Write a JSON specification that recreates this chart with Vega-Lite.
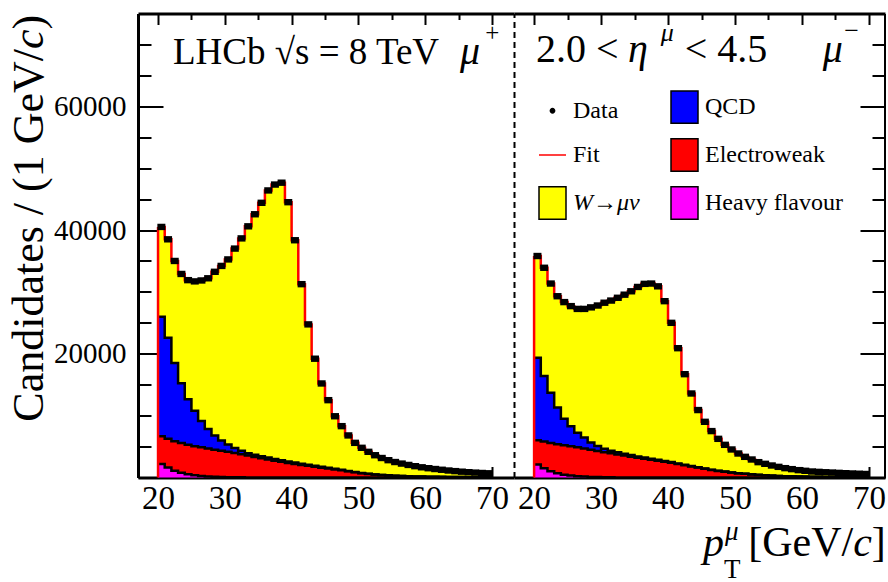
{
  "$schema": "https://vega.github.io/schema/vega-lite/v6.json",
  "background": "white",
  "padding": {"left": 7, "top": 12.5, "right": 0, "bottom": 0},
  "config": {
    "view": {"stroke": null},
    "font": "Liberation Serif",
    "axis": {"grid": false, "domainColor": "black", "tickColor": "black", "labelColor": "black", "titleColor": "black", "labelFont": "Liberation Serif", "titleFont": "Liberation Serif", "labelOverlap": false, "labelFlush": false}
  },
  "datasets": {
    "plus": [
      {"pt":20,"hf":2200,"ew":4480,"qcd":19320,"w":14500,"data":40500},
      {"pt":21,"hf":1600,"ew":4680,"qcd":16320,"w":15900,"data":38500},
      {"pt":22,"hf":1100,"ew":4770,"qcd":12630,"w":16500,"data":35000},
      {"pt":23,"hf":750,"ew":4810,"qcd":9690,"w":17650,"data":32900},
      {"pt":24,"hf":520,"ew":4780,"qcd":7350,"w":19250,"data":31900},
      {"pt":25,"hf":370,"ew":4700,"qcd":5730,"w":20900,"data":31700},
      {"pt":26,"hf":260,"ew":4610,"qcd":4280,"w":22700,"data":31850},
      {"pt":27,"hf":180,"ew":4500,"qcd":3170,"w":24350,"data":32200},
      {"pt":28,"hf":120,"ew":4380,"qcd":2300,"w":26450,"data":33250},
      {"pt":29,"hf":80,"ew":4240,"qcd":1680,"w":28200,"data":34200},
      {"pt":30,"hf":50,"ew":4100,"qcd":1200,"w":29900,"data":35250},
      {"pt":31,"hf":35,"ew":3925,"qcd":820,"w":32220,"data":37000},
      {"pt":32,"hf":25,"ew":3735,"qcd":550,"w":34340,"data":38650},
      {"pt":33,"hf":15,"ew":3525,"qcd":400,"w":36660,"data":40600},
      {"pt":34,"hf":10,"ew":3320,"qcd":350,"w":38870,"data":42550},
      {"pt":35,"hf":8,"ew":3112,"qcd":320,"w":40960,"data":44400},
      {"pt":36,"hf":6,"ew":2914,"qcd":300,"w":43180,"data":46400},
      {"pt":37,"hf":5,"ew":2715,"qcd":280,"w":44350,"data":47350},
      {"pt":38,"hf":4,"ew":2536,"qcd":260,"w":44850,"data":47650},
      {"pt":39,"hf":3,"ew":2357,"qcd":240,"w":41900,"data":44500},
      {"pt":40,"hf":2,"ew":2188,"qcd":220,"w":35940,"data":38350},
      {"pt":41,"hf":2,"ew":2028,"qcd":200,"w":29020,"data":31250},
      {"pt":42,"hf":1,"ew":1879,"qcd":180,"w":22690,"data":24750},
      {"pt":43,"hf":1,"ew":1729,"qcd":160,"w":17310,"data":19200},
      {"pt":44,"hf":1,"ew":1589,"qcd":140,"w":13470,"data":15200},
      {"pt":45,"hf":0,"ew":1450,"qcd":120,"w":10930,"data":12500},
      {"pt":46,"hf":0,"ew":1310,"qcd":100,"w":8490,"data":9900},
      {"pt":47,"hf":0,"ew":1160,"qcd":80,"w":7060,"data":8300},
      {"pt":48,"hf":0,"ew":1010,"qcd":60,"w":5730,"data":6800},
      {"pt":49,"hf":0,"ew":850,"qcd":50,"w":4700,"data":5600},
      {"pt":50,"hf":0,"ew":700,"qcd":40,"w":4060,"data":4800},
      {"pt":51,"hf":0,"ew":580,"qcd":30,"w":3540,"data":4150},
      {"pt":52,"hf":0,"ew":480,"qcd":25,"w":3095,"data":3600},
      {"pt":53,"hf":0,"ew":400,"qcd":20,"w":2730,"data":3150},
      {"pt":54,"hf":0,"ew":330,"qcd":20,"w":2450,"data":2800},
      {"pt":55,"hf":0,"ew":280,"qcd":15,"w":2205,"data":2500},
      {"pt":56,"hf":0,"ew":240,"qcd":12,"w":1998,"data":2250},
      {"pt":57,"hf":0,"ew":200,"qcd":10,"w":1820,"data":2030},
      {"pt":58,"hf":0,"ew":170,"qcd":9,"w":1651,"data":1830},
      {"pt":59,"hf":0,"ew":150,"qcd":8,"w":1492,"data":1650},
      {"pt":60,"hf":0,"ew":130,"qcd":7,"w":1363,"data":1500},
      {"pt":61,"hf":0,"ew":115,"qcd":6,"w":1249,"data":1370},
      {"pt":62,"hf":0,"ew":100,"qcd":5,"w":1145,"data":1250},
      {"pt":63,"hf":0,"ew":90,"qcd":5,"w":1035,"data":1130},
      {"pt":64,"hf":0,"ew":80,"qcd":4,"w":946,"data":1030},
      {"pt":65,"hf":0,"ew":70,"qcd":4,"w":866,"data":940},
      {"pt":66,"hf":0,"ew":60,"qcd":3,"w":797,"data":860},
      {"pt":67,"hf":0,"ew":55,"qcd":3,"w":732,"data":790},
      {"pt":68,"hf":0,"ew":50,"qcd":2,"w":678,"data":730},
      {"pt":69,"hf":0,"ew":45,"qcd":2,"w":633,"data":680},
      {"pt":70,"hf":0,"ew":45,"qcd":2,"w":633}
    ],
    "minus": [
      {"pt":20,"hf":2100,"ew":3930,"qcd":13320,"w":16450,"data":35800},
      {"pt":21,"hf":1500,"ew":4300,"qcd":10600,"w":17500,"data":33900},
      {"pt":22,"hf":1000,"ew":4580,"qcd":8120,"w":17650,"data":31350},
      {"pt":23,"hf":680,"ew":4700,"qcd":5920,"w":18000,"data":29300},
      {"pt":24,"hf":460,"ew":4750,"qcd":4290,"w":18850,"data":28350},
      {"pt":25,"hf":320,"ew":4740,"qcd":3240,"w":19400,"data":27700},
      {"pt":26,"hf":220,"ew":4650,"qcd":2380,"w":20000,"data":27250},
      {"pt":27,"hf":150,"ew":4530,"qcd":1770,"w":20800,"data":27250},
      {"pt":28,"hf":100,"ew":4390,"qcd":1160,"w":21850,"data":27500},
      {"pt":29,"hf":70,"ew":4220,"qcd":810,"w":22700,"data":27800},
      {"pt":30,"hf":45,"ew":4045,"qcd":560,"w":23600,"data":28250},
      {"pt":31,"hf":30,"ew":3880,"qcd":430,"w":24260,"data":28600},
      {"pt":32,"hf":20,"ew":3710,"qcd":350,"w":24970,"data":29050},
      {"pt":33,"hf":12,"ew":3538,"qcd":300,"w":25700,"data":29550},
      {"pt":34,"hf":8,"ew":3352,"qcd":260,"w":26480,"data":30100},
      {"pt":35,"hf":5,"ew":3175,"qcd":230,"w":27390,"data":30800},
      {"pt":36,"hf":3,"ew":3017,"qcd":200,"w":28080,"data":31300},
      {"pt":37,"hf":2,"ew":2848,"qcd":180,"w":28320,"data":31350},
      {"pt":38,"hf":1,"ew":2689,"qcd":160,"w":28050,"data":30900},
      {"pt":39,"hf":0,"ew":2530,"qcd":140,"w":25830,"data":28500},
      {"pt":40,"hf":0,"ew":2370,"qcd":120,"w":22510,"data":25000},
      {"pt":41,"hf":0,"ew":2180,"qcd":100,"w":18620,"data":20900},
      {"pt":42,"hf":0,"ew":1990,"qcd":85,"w":14625,"data":16700},
      {"pt":43,"hf":0,"ew":1790,"qcd":70,"w":11720,"data":13580},
      {"pt":44,"hf":0,"ew":1600,"qcd":60,"w":9240,"data":10900},
      {"pt":45,"hf":0,"ew":1400,"qcd":50,"w":7550,"data":9000},
      {"pt":46,"hf":0,"ew":1230,"qcd":40,"w":6230,"data":7500},
      {"pt":47,"hf":0,"ew":1070,"qcd":30,"w":5150,"data":6250},
      {"pt":48,"hf":0,"ew":930,"qcd":25,"w":4325,"data":5280},
      {"pt":49,"hf":0,"ew":800,"qcd":20,"w":3710,"data":4530},
      {"pt":50,"hf":0,"ew":690,"qcd":15,"w":3175,"data":3880},
      {"pt":51,"hf":0,"ew":590,"qcd":12,"w":2738,"data":3340},
      {"pt":52,"hf":0,"ew":500,"qcd":10,"w":2400,"data":2910},
      {"pt":53,"hf":0,"ew":420,"qcd":8,"w":2052,"data":2480},
      {"pt":54,"hf":0,"ew":360,"qcd":6,"w":1844,"data":2210},
      {"pt":55,"hf":0,"ew":300,"qcd":5,"w":1635,"data":1940},
      {"pt":56,"hf":0,"ew":255,"qcd":4,"w":1461,"data":1720},
      {"pt":57,"hf":0,"ew":215,"qcd":3,"w":1292,"data":1510},
      {"pt":58,"hf":0,"ew":185,"qcd":3,"w":1162,"data":1350},
      {"pt":59,"hf":0,"ew":160,"qcd":2,"w":1028,"data":1190},
      {"pt":60,"hf":0,"ew":140,"qcd":2,"w":938,"data":1080},
      {"pt":61,"hf":0,"ew":120,"qcd":2,"w":848,"data":970},
      {"pt":62,"hf":0,"ew":105,"qcd":1,"w":804,"data":910},
      {"pt":63,"hf":0,"ew":92,"qcd":1,"w":757,"data":850},
      {"pt":64,"hf":0,"ew":80,"qcd":1,"w":719,"data":800},
      {"pt":65,"hf":0,"ew":70,"qcd":1,"w":679,"data":750},
      {"pt":66,"hf":0,"ew":62,"qcd":1,"w":637,"data":700},
      {"pt":67,"hf":0,"ew":55,"qcd":1,"w":594,"data":650},
      {"pt":68,"hf":0,"ew":50,"qcd":1,"w":559,"data":610},
      {"pt":69,"hf":0,"ew":45,"qcd":1,"w":524,"data":570},
      {"pt":70,"hf":0,"ew":45,"qcd":1,"w":524}
    ]
  },
  "hconcat": [
    {
      "width": 376,
      "height": 464,
      "resolve": {"axis": {"x": "independent", "y": "independent"}},
      "layer": [
        {
          "data": {"name": "plus"},
          "transform": [
            {"fold": ["hf", "ew", "qcd", "w"], "as": ["component", "count"]},
            {"stack": "count", "groupby": ["pt"], "as": ["lo", "hi"]}
          ],
          "mark": {"type": "area", "interpolate": "step-after"},
          "encoding": {
            "x": {"field": "pt", "type": "quantitative", "scale": {"domain": [17, 73.3], "nice": false, "zero": false},
              "axis": {"orient": "bottom", "values": [20,25,30,35,40,45,50,55,60,65,70], "labelExpr": "datum.value % 10 === 0 ? datum.label : ''", "tickSize": {"condition": {"test": "datum.value % 10 === 0", "value": -11}, "value": -6}, "tickWidth": 2, "domainWidth": 3, "labelFont": "Liberation Serif", "labelFontSize": 33, "labelPadding": 16, "title": null}},
            "y": {"field": "lo", "type": "quantitative", "scale": {"domain": [0, 75000], "nice": false, "zero": false},
              "axis": {"orient": "left", "values": [0,5000,10000,15000,20000,25000,30000,35000,40000,45000,50000,55000,60000,65000,70000], "format": "d", "labelExpr": "datum.value % 20000 === 0 && datum.value > 0 ? datum.label : ''", "tickSize": {"condition": {"test": "datum.value % 20000 === 0", "value": -25}, "value": -13}, "tickWidth": 2, "domainWidth": 3, "labelFont": "Liberation Serif", "labelFontSize": 29, "labelPadding": 37, "title": null}},
            "y2": {"field": "hi"},
            "fill": {"field": "component", "type": "nominal", "scale": {"domain": ["data", "fit", "w", "qcd", "ew", "hf"], "range": ["#000000", "#ff0000", "#ffff00", "#0000ff", "#ff0000", "#ff00ff"]}, "legend": null}
          }
        },
        {
          "data": {"name": "plus"},
          "transform": [
            {"fold": ["hf", "ew", "qcd", "w"], "as": ["component", "count"]},
            {"stack": "count", "groupby": ["pt"], "as": ["lo", "hi"]},
            {"filter": "datum.component !== 'w'"}
          ],
          "mark": {"type": "line", "interpolate": "step-after", "color": "black", "strokeWidth": 2.5},
          "encoding": {
            "x": {"field": "pt", "type": "quantitative", "scale": {"domain": [17, 73.3], "nice": false, "zero": false},
              "axis": {"orient": "top", "values": [20,25,30,35,40,45,50,55,60,65,70], "labels": false, "tickSize": {"condition": {"test": "datum.value % 10 === 0", "value": -11}, "value": -6}, "tickWidth": 2, "domainWidth": 3, "title": null}},
            "y": {"field": "hi", "type": "quantitative", "scale": {"domain": [0, 75000], "nice": false, "zero": false},
              "axis": {"orient": "right", "ticks": false, "labels": false, "domainDash": [6, 4], "domainWidth": 2, "title": null}},
            "detail": {"field": "component", "type": "nominal"}
          }
        },
        {
          "data": {"name": "plus"},
          "transform": [
            {"fold": ["hf", "ew", "qcd", "w"], "as": ["component", "count"]},
            {"stack": "count", "groupby": ["pt"], "as": ["lo", "hi"]},
            {"filter": "datum.component === 'w'"}
          ],
          "mark": {"type": "line", "interpolate": "step-after", "color": "#ff0000", "strokeWidth": 2.5},
          "encoding": {
            "x": {"field": "pt", "type": "quantitative", "axis": null},
            "y": {"field": "hi", "type": "quantitative", "axis": null}
          }
        },
        {
          "data": {"name": "plus"},
          "transform": [
            {"fold": ["hf", "ew", "qcd", "w"], "as": ["component", "count"]},
            {"stack": "count", "groupby": ["pt"], "as": ["lo", "hi"]},
            {"filter": "datum.component === 'w' && datum.pt === 20"}
          ],
          "mark": {"type": "rule", "color": "#ff0000", "strokeWidth": 2.5},
          "encoding": {
            "x": {"field": "pt", "type": "quantitative", "axis": null},
            "y": {"field": "hi", "type": "quantitative", "axis": null},
            "y2": {"datum": 0}
          }
        },
        {
          "data": {"name": "plus"},
          "mark": {"type": "point", "shape": "M-1,-0.8H1V0.8H-1Z", "size": 64, "filled": true, "color": "black", "opacity": 1, "xOffset": 3.34},
          "encoding": {
            "x": {"field": "pt", "type": "quantitative", "axis": null},
            "y": {"field": "data", "type": "quantitative", "axis": null}
          }
        },
        {
          "data": {"values": [{}]},
          "mark": {"type": "text", "text": ")", "font": "Liberation Serif", "fontSize": 44, "angle": 270, "align": "right", "baseline": "alphabetic", "color": "black"},
          "encoding": {"x": {"datum": 2.77, "type": "quantitative", "axis": null}, "y": {"datum": 74800, "type": "quantitative", "axis": null}}
        },
        {
          "data": {"values": [{}]},
          "mark": {"type": "text", "text": "c", "font": "Liberation Serif", "fontStyle": "italic", "fontSize": 44, "angle": 270, "align": "right", "baseline": "alphabetic", "color": "black", "dx": -14.7},
          "encoding": {"x": {"datum": 2.77, "type": "quantitative", "axis": null}, "y": {"datum": 74800, "type": "quantitative", "axis": null}}
        },
        {
          "data": {"values": [{}]},
          "mark": {"type": "text", "text": "Candidates / (1 GeV/", "font": "Liberation Serif", "fontSize": 44, "angle": 270, "align": "right", "baseline": "alphabetic", "color": "black", "dx": -34.2},
          "encoding": {"x": {"datum": 2.77, "type": "quantitative", "axis": null}, "y": {"datum": 74800, "type": "quantitative", "axis": null}}
        },
        {
          "data": {"values": [{}]},
          "mark": {"type": "text", "text": "LHCb  √s = 8 TeV", "font": "Liberation Serif", "fontSize": 37, "align": "left", "baseline": "alphabetic", "color": "black"},
          "encoding": {"x": {"datum": 22.24, "type": "quantitative", "axis": null}, "y": {"datum": 66760, "type": "quantitative", "axis": null}}
        },
        {
          "data": {"values": [{}]},
          "mark": {"type": "text", "text": "μ", "font": "Liberation Serif", "fontStyle": "italic", "fontSize": 40, "align": "left", "baseline": "alphabetic", "color": "black"},
          "encoding": {"x": {"datum": 65.22, "type": "quantitative", "axis": null}, "y": {"datum": 66760, "type": "quantitative", "axis": null}}
        },
        {
          "data": {"values": [{}]},
          "mark": {"type": "text", "text": "+", "font": "Liberation Serif", "fontSize": 25, "align": "left", "baseline": "alphabetic", "color": "black"},
          "encoding": {"x": {"datum": 69.0, "type": "quantitative", "axis": null}, "y": {"datum": 70475, "type": "quantitative", "axis": null}}
        }
      ]
    },
    {
      "width": 371,
      "height": 464,
      "resolve": {"axis": {"x": "independent", "y": "independent"}},
      "layer": [
        {
          "data": {"name": "minus"},
          "transform": [
            {"fold": ["hf", "ew", "qcd", "w"], "as": ["component", "count"]},
            {"stack": "count", "groupby": ["pt"], "as": ["lo", "hi"]}
          ],
          "mark": {"type": "area", "interpolate": "step-after"},
          "encoding": {
            "x": {"field": "pt", "type": "quantitative", "scale": {"domain": [17, 72.4], "nice": false, "zero": false},
              "axis": {"orient": "bottom", "values": [20,25,30,35,40,45,50,55,60,65,70], "labelExpr": "datum.value % 10 === 0 ? datum.label : ''", "tickSize": {"condition": {"test": "datum.value % 10 === 0", "value": -11}, "value": -6}, "tickWidth": 2, "domainWidth": 3, "labelFont": "Liberation Serif", "labelFontSize": 33, "labelPadding": 16, "title": null}},
            "y": {"field": "lo", "type": "quantitative", "scale": {"domain": [0, 75000], "nice": false, "zero": false},
              "axis": {"orient": "right", "values": [0,5000,10000,15000,20000,25000,30000,35000,40000,45000,50000,55000,60000,65000,70000], "labels": false, "tickSize": {"condition": {"test": "datum.value % 20000 === 0", "value": -25}, "value": -13}, "tickWidth": 2, "domainWidth": 3, "title": null}},
            "y2": {"field": "hi"},
            "fill": {"field": "component", "type": "nominal", "scale": {"domain": ["data", "fit", "w", "qcd", "ew", "hf"], "range": ["#000000", "#ff0000", "#ffff00", "#0000ff", "#ff0000", "#ff00ff"]},
              "legend": {
                "orient": "none", "legendX": 24, "legendY": 79, "columns": 2, "title": null, "padding": 0,
                "labelFont": "Liberation Serif", "labelFontSize": 24, "labelColor": "black", "labelOffset": 6,
                "labelFontStyle": {"expr": "datum.value === 'w' ? 'italic' : 'normal'"},
                "rowPadding": 9, "columnPadding": 28, "symbolSize": 729,
                "symbolType": {"expr": "datum.value === 'fit' ? 'stroke' : datum.value === 'data' ? 'M0,-0.16A0.16,0.16 0 1,1 0,0.16A0.16,0.16 0 1,1 0,-0.16Z' : 'M-1,-1.2H1V1.2H-1Z'"},
                "symbolStrokeColor": {"expr": "datum.value === 'fit' ? '#ff0000' : '#000000'"},
                "symbolStrokeWidth": 1.5, "symbolOpacity": 1,
                "labelExpr": "datum.value === 'data' ? 'Data' : datum.value === 'qcd' ? 'QCD' : datum.value === 'fit' ? 'Fit' : datum.value === 'ew' ? 'Electroweak' : datum.value === 'w' ? 'W→μν' : 'Heavy flavour'"
              }}
          }
        },
        {
          "data": {"name": "minus"},
          "transform": [
            {"fold": ["hf", "ew", "qcd", "w"], "as": ["component", "count"]},
            {"stack": "count", "groupby": ["pt"], "as": ["lo", "hi"]},
            {"filter": "datum.component !== 'w'"}
          ],
          "mark": {"type": "line", "interpolate": "step-after", "color": "black", "strokeWidth": 2.5},
          "encoding": {
            "x": {"field": "pt", "type": "quantitative", "scale": {"domain": [17, 72.4], "nice": false, "zero": false},
              "axis": {"orient": "top", "values": [20,25,30,35,40,45,50,55,60,65,70], "labels": false, "tickSize": {"condition": {"test": "datum.value % 10 === 0", "value": -11}, "value": -6}, "tickWidth": 2, "domainWidth": 3, "title": null}},
            "y": {"field": "hi", "type": "quantitative", "scale": {"domain": [0, 75000], "nice": false, "zero": false}, "axis": null},
            "detail": {"field": "component", "type": "nominal"}
          }
        },
        {
          "data": {"name": "minus"},
          "transform": [
            {"fold": ["hf", "ew", "qcd", "w"], "as": ["component", "count"]},
            {"stack": "count", "groupby": ["pt"], "as": ["lo", "hi"]},
            {"filter": "datum.component === 'w'"}
          ],
          "mark": {"type": "line", "interpolate": "step-after", "color": "#ff0000", "strokeWidth": 2.5},
          "encoding": {
            "x": {"field": "pt", "type": "quantitative", "axis": null},
            "y": {"field": "hi", "type": "quantitative", "axis": null}
          }
        },
        {
          "data": {"name": "minus"},
          "transform": [
            {"fold": ["hf", "ew", "qcd", "w"], "as": ["component", "count"]},
            {"stack": "count", "groupby": ["pt"], "as": ["lo", "hi"]},
            {"filter": "datum.component === 'w' && datum.pt === 20"}
          ],
          "mark": {"type": "rule", "color": "#ff0000", "strokeWidth": 2.5},
          "encoding": {
            "x": {"field": "pt", "type": "quantitative", "axis": null},
            "y": {"field": "hi", "type": "quantitative", "axis": null},
            "y2": {"datum": 0}
          }
        },
        {
          "data": {"name": "minus"},
          "mark": {"type": "point", "shape": "M-1,-0.8H1V0.8H-1Z", "size": 64, "filled": true, "color": "black", "opacity": 1, "xOffset": 3.35},
          "encoding": {
            "x": {"field": "pt", "type": "quantitative", "axis": null},
            "y": {"field": "data", "type": "quantitative", "axis": null}
          }
        },
        {
          "data": {"values": [{}]},
          "mark": {"type": "text", "text": "2.0 <", "font": "Liberation Serif", "fontSize": 40, "align": "left", "baseline": "alphabetic", "color": "black"},
          "encoding": {"x": {"datum": 20.28, "type": "quantitative", "axis": null}, "y": {"datum": 67080, "type": "quantitative", "axis": null}}
        },
        {
          "data": {"values": [{}]},
          "mark": {"type": "text", "text": "η", "font": "Liberation Serif", "fontStyle": "italic", "fontSize": 40, "align": "left", "baseline": "alphabetic", "color": "black"},
          "encoding": {"x": {"datum": 34.01, "type": "quantitative", "axis": null}, "y": {"datum": 67080, "type": "quantitative", "axis": null}}
        },
        {
          "data": {"values": [{}]},
          "mark": {"type": "text", "text": "μ", "font": "Liberation Serif", "fontStyle": "italic", "fontSize": 26, "align": "left", "baseline": "alphabetic", "color": "black"},
          "encoding": {"x": {"datum": 38.9, "type": "quantitative", "axis": null}, "y": {"datum": 70475, "type": "quantitative", "axis": null}}
        },
        {
          "data": {"values": [{}]},
          "mark": {"type": "text", "text": "< 4.5", "font": "Liberation Serif", "fontSize": 40, "align": "left", "baseline": "alphabetic", "color": "black"},
          "encoding": {"x": {"datum": 42.5, "type": "quantitative", "axis": null}, "y": {"datum": 67080, "type": "quantitative", "axis": null}}
        },
        {
          "data": {"values": [{}]},
          "mark": {"type": "text", "text": "μ", "font": "Liberation Serif", "fontStyle": "italic", "fontSize": 40, "align": "left", "baseline": "alphabetic", "color": "black"},
          "encoding": {"x": {"datum": 63.12, "type": "quantitative", "axis": null}, "y": {"datum": 67080, "type": "quantitative", "axis": null}}
        },
        {
          "data": {"values": [{}]},
          "mark": {"type": "text", "text": "−", "font": "Liberation Serif", "fontSize": 26, "align": "left", "baseline": "alphabetic", "color": "black"},
          "encoding": {"x": {"datum": 66.3, "type": "quantitative", "axis": null}, "y": {"datum": 70798, "type": "quantitative", "axis": null}}
        },
        {
          "data": {"values": [{}]},
          "mark": {"type": "text", "text": "]", "font": "Liberation Serif", "fontSize": 42, "align": "right", "baseline": "alphabetic", "color": "black"},
          "encoding": {"x": {"datum": 72.52, "type": "quantitative", "axis": null}, "y": {"datum": -12608, "type": "quantitative", "axis": null}}
        },
        {
          "data": {"values": [{}]},
          "mark": {"type": "text", "text": "c", "font": "Liberation Serif", "fontStyle": "italic", "fontSize": 42, "align": "right", "baseline": "alphabetic", "color": "black", "dx": -14},
          "encoding": {"x": {"datum": 72.52, "type": "quantitative", "axis": null}, "y": {"datum": -12608, "type": "quantitative", "axis": null}}
        },
        {
          "data": {"values": [{}]},
          "mark": {"type": "text", "text": "[GeV/", "font": "Liberation Serif", "fontSize": 42, "align": "right", "baseline": "alphabetic", "color": "black", "dx": -32.6},
          "encoding": {"x": {"datum": 72.52, "type": "quantitative", "axis": null}, "y": {"datum": -12608, "type": "quantitative", "axis": null}}
        },
        {
          "data": {"values": [{}]},
          "mark": {"type": "text", "text": "p", "font": "Liberation Serif", "fontStyle": "italic", "fontSize": 42, "align": "left", "baseline": "alphabetic", "color": "black"},
          "encoding": {"x": {"datum": 45.21, "type": "quantitative", "axis": null}, "y": {"datum": -12608, "type": "quantitative", "axis": null}}
        },
        {
          "data": {"values": [{}]},
          "mark": {"type": "text", "text": "μ", "font": "Liberation Serif", "fontStyle": "italic", "fontSize": 27, "align": "left", "baseline": "alphabetic", "color": "black"},
          "encoding": {"x": {"datum": 48.49, "type": "quantitative", "axis": null}, "y": {"datum": -10022, "type": "quantitative", "axis": null}}
        },
        {
          "data": {"values": [{}]},
          "mark": {"type": "text", "text": "T", "font": "Liberation Serif", "fontSize": 27, "align": "left", "baseline": "alphabetic", "color": "black"},
          "encoding": {"x": {"datum": 48.34, "type": "quantitative", "axis": null}, "y": {"datum": -16164, "type": "quantitative", "axis": null}}
        }
      ]
    }
  ],
  "spacing": 0,
  "bounds": "flush",
  "resolve": {"scale": {"fill": "independent"}, "legend": {"fill": "independent"}}
}
